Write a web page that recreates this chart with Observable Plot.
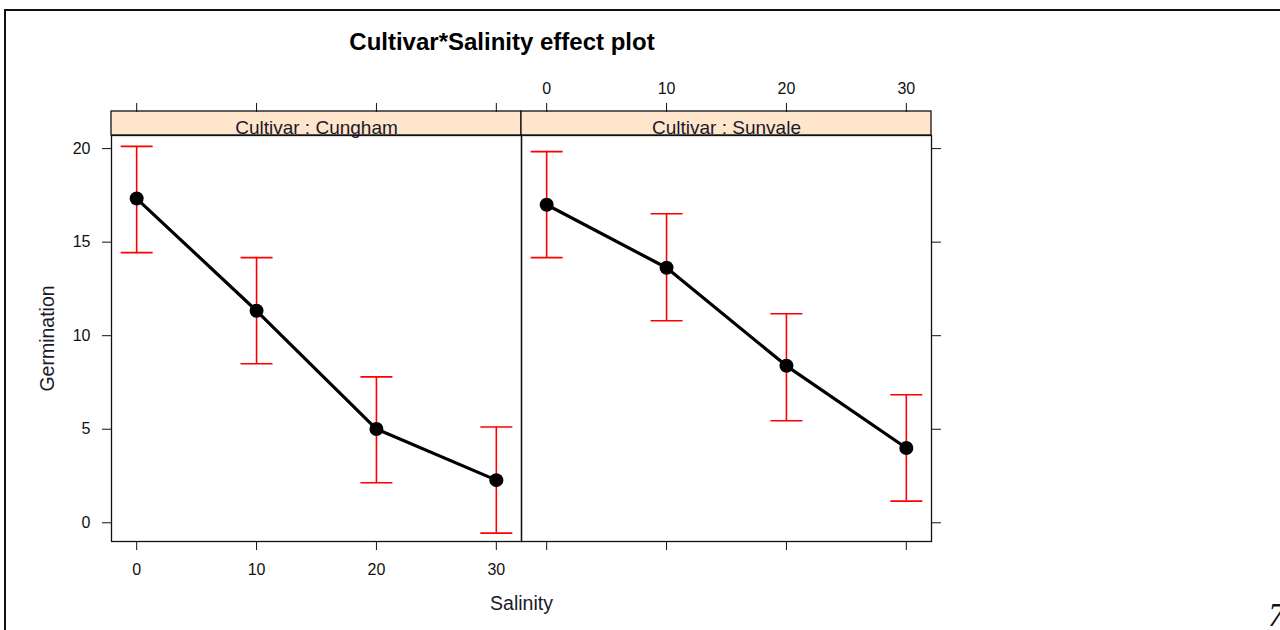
<!DOCTYPE html>
<html>
<head>
<meta charset="utf-8">
<script src="https://cdn.jsdelivr.net/npm/d3@7"></script>
<script src="https://cdn.jsdelivr.net/npm/@observablehq/plot@0.6"></script>
<style>
  body { margin: 0; background: #fff; }
  #page { position: relative; width: 1280px; height: 630px; overflow: hidden;
          font-family: "Liberation Sans", Arial, sans-serif; color: #111; }
  #border { position: absolute; left: 4px; top: 9px; width: 1320px; height: 700px;
            border: 2px solid #111; }
  #title { position: absolute; left: 0; width: 1004px; top: 30px; text-align: center;
           font-weight: bold; font-size: 24px; line-height: 23px; color: #000; }
  .panel { position: absolute; top: 0; }
  #corner { position: absolute; left: 1268px; top: 598px; font: italic 34px/34px "Liberation Serif", serif; }
</style>
</head>
<body>
<div id="page">
  <div id="border"></div>
  <div id="title">Cultivar*Salinity effect plot</div>
  <div id="left" class="panel" style="left:0px"></div>
  <div id="right" class="panel" style="left:512px"></div>
  <span id="corner">7</span>
</div>
<script>
// Salinity levels and fitted germination with confidence limits, per cultivar
const salinity = [0, 10, 20, 30];
const cultivars = ["Cungham", "Sunvale"];
const germCungham  = [17.33, 11.33, 5.01, 2.28];
const lowerCungham = [14.44, 8.50, 2.14, -0.55];
const upperCungham = [20.12, 14.17, 7.80, 5.12];
const germSunvale  = [17.00, 13.63, 8.39, 4.00];
const lowerSunvale = [14.17, 10.80, 5.45, 1.16];
const upperSunvale = [19.84, 16.52, 11.17, 6.84];

// axis ticks
const xTicks = [0, 10, 20, 30];
const yTicks = [0, 5, 10, 15, 20];

const xDomain = [-2.1, 32.1];
const yDomain = [-1.0, 20.7];

const ink = "#111";
const labelInk = "#1a1a2a";
const ciColor = "#ff0000";
const stripFill = "#ffe5cc";
const stripHeight = 24;

// horizontal bar symbol used for the error-bar caps
const capSymbol = {
  draw(context, size) {
    const r = Math.sqrt(size / Math.PI);
    context.moveTo(-r, 0);
    context.lineTo(r, 0);
  }
};

const blank = () => "";

function panel(name, fit, lower, upper, side) {
  const rows = salinity.map((s, i) => ({s, fit: fit[i], lo: lower[i], hi: upper[i]}));
  const isLeft = side === "left";
  const tickOpts = {fontSize: 16, tickSize: 9, label: null};
  // the top axis sits above the strip
  const topOpts = {...tickOpts, anchor: "top", dy: -stripHeight};
  const marks = [
    // strip with the panel's cultivar name
    Plot.rect([0], {x1: xDomain[0], x2: xDomain[1], y1: yDomain[1], y2: yDomain[1],
                    insetTop: -stripHeight, fill: stripFill, stroke: ink, strokeWidth: 1.3}),
    Plot.text([`Cultivar : ${name}`], {frameAnchor: "top", lineAnchor: "middle", dy: -8,
                                       fontSize: 19, fill: labelInk}),
    Plot.frame({stroke: ink, strokeWidth: 1.3}),
    // axes alternate between the two panels
    isLeft
      ? Plot.axisY(yTicks, {...tickOpts, anchor: "left", tickPadding: 12})
      : Plot.axisY(yTicks, {...tickOpts, anchor: "right", tickFormat: blank}),
    isLeft
      ? Plot.axisX(xTicks, {...topOpts, tickFormat: blank})
      : Plot.axisX(xTicks, {...topOpts, tickPadding: 9}),
    isLeft
      ? Plot.axisX(xTicks, {...tickOpts, anchor: "bottom", tickPadding: 13})
      : Plot.axisX(xTicks, {...tickOpts, anchor: "bottom", tickFormat: blank}),
    // confidence intervals
    Plot.ruleX(rows, {x: "s", y1: "lo", y2: "hi", stroke: ciColor, strokeWidth: 1.6}),
    Plot.dot(rows, {x: "s", y: "lo", symbol: capSymbol, r: 16, stroke: ciColor, strokeWidth: 1.6}),
    Plot.dot(rows, {x: "s", y: "hi", symbol: capSymbol, r: 16, stroke: ciColor, strokeWidth: 1.6}),
    // fitted effect
    Plot.line(rows, {x: "s", y: "fit", stroke: "#000", strokeWidth: 3.2}),
    Plot.dot(rows, {x: "s", y: "fit", r: 7, fill: "#000", stroke: "none"})
  ];
  if (isLeft) {
    // y-axis title
    marks.push(Plot.text(["Germination"], {frameAnchor: "left", rotate: -90, dx: -64,
                                           textAnchor: "middle", lineAnchor: "middle",
                                           fontSize: 19.5, fill: labelInk}));
    // shared x-axis title, centred under both panels
    marks.push(Plot.text(["Salinity"], {frameAnchor: "bottom-right", textAnchor: "middle",
                                        lineAnchor: "middle", dy: 62, fontSize: 19.5, fill: labelInk}));
  }
  return Plot.plot({
    width: isLeft ? 530 : 439,
    height: 630,
    marginTop: 135,
    marginBottom: 89,
    marginLeft: isLeft ? 111 : 9,
    marginRight: isLeft ? 9 : 20,
    x: {domain: xDomain},
    y: {domain: yDomain},
    style: {background: "transparent", overflow: "visible", color: ink,
            fontFamily: "'Liberation Sans', Arial, sans-serif"},
    marks
  });
}

document.getElementById("left").append(
  panel(cultivars[0], germCungham, lowerCungham, upperCungham, "left"));
document.getElementById("right").append(
  panel(cultivars[1], germSunvale, lowerSunvale, upperSunvale, "right"));
</script>
</body>
</html>
